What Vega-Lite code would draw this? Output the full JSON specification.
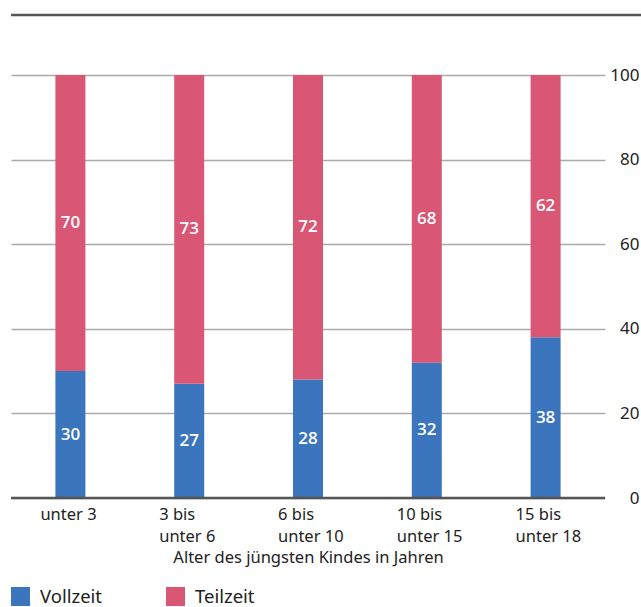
{
  "$schema": "https://vega.github.io/schema/vega-lite/v6.json",
  "width": 594,
  "height": 483,
  "padding": {"left": 9, "top": 13, "right": 0, "bottom": 0},
  "autosize": {"type": "pad"},
  "config": {
    "font": "Noto Sans",
    "view": {"stroke": null},
    "axis": {"labelFont": "Noto Sans", "titleFont": "Noto Sans", "labelColor": "#222", "titleColor": "#222", "domain": false, "ticks": false}
  },
  "data": {
    "values": [
      {"alter": "unter 3", "typ": "Vollzeit", "v": 30},
      {"alter": "unter 3", "typ": "Teilzeit", "v": 70},
      {"alter": "3 bis\nunter 6", "typ": "Vollzeit", "v": 27},
      {"alter": "3 bis\nunter 6", "typ": "Teilzeit", "v": 73},
      {"alter": "6 bis\nunter 10", "typ": "Vollzeit", "v": 28},
      {"alter": "6 bis\nunter 10", "typ": "Teilzeit", "v": 72},
      {"alter": "10 bis\nunter 15", "typ": "Vollzeit", "v": 32},
      {"alter": "10 bis\nunter 15", "typ": "Teilzeit", "v": 68},
      {"alter": "15 bis\nunter 18", "typ": "Vollzeit", "v": 38},
      {"alter": "15 bis\nunter 18", "typ": "Teilzeit", "v": 62}
    ]
  },
  "layer": [
    {
      "mark": {"type": "bar", "width": 30},
      "encoding": {
        "x": {
          "field": "alter", "type": "nominal", "sort": null,
          "scale": {"domain": ["unter 3", "3 bis\nunter 6", "6 bis\nunter 10", "10 bis\nunter 15", "15 bis\nunter 18"], "paddingInner": 0, "paddingOuter": 0},
          "axis": {
            "labelAngle": 0, "labelAlign": "left", "labelOffset": -30, "labelPadding": 8,
            "labelFontSize": 16.5, "labelLineHeight": 22, "labelExpr": "split(datum.label, '\\n')",
            "title": "Alter des jüngsten Kindes in Jahren", "titleFontSize": 16.5, "titleFontWeight": "normal", "titlePadding": 5, "grid": false
          }
        },
        "y": {
          "field": "v", "type": "quantitative", "stack": "zero",
          "scale": {"domain": [0, 114.2], "nice": false},
          "axis": {
            "orient": "right", "values": [0, 20, 40, 60, 80, 100], "title": null,
            "labelAlign": "right", "labelPadding": 34, "labelFontSize": 17, "labelBaseline": "middle",
            "grid": true, "gridColor": "#aaaaaa", "gridWidth": 1.5
          }
        },
        "color": {
          "field": "typ", "type": "nominal",
          "scale": {"domain": ["Vollzeit", "Teilzeit"], "range": ["#3B75BD", "#D95775"]},
          "legend": {
            "title": null, "orient": "none", "legendX": 0, "legendY": 572, "direction": "horizontal",
            "symbolType": "square", "symbolSize": 361, "symbolStrokeWidth": 0, "labelFontSize": 18.5,
            "labelFont": "Noto Sans", "labelColor": "#222", "labelOffset": 10, "columnPadding": 63, "padding": 0, "labelLimit": 200
          }
        },
        "order": {"field": "typ", "sort": "descending"}
      }
    },
    {
      "mark": {"type": "text", "color": "white", "fontSize": 17, "font": "Open Sans", "fontWeight": 600, "baseline": "middle"},
      "encoding": {
        "x": {"field": "alter", "type": "nominal", "sort": null},
        "y": {"field": "v", "type": "quantitative", "stack": "zero", "bandPosition": 0.5},
        "text": {"field": "v", "type": "quantitative"},
        "order": {"field": "typ", "sort": "descending"}
      }
    },
    {
      "data": {"values": [{"y": 0}]},
      "mark": {"type": "rule", "color": "#555555", "strokeWidth": 2.5},
      "encoding": {"y": {"field": "y", "type": "quantitative"}}
    },
    {
      "data": {"values": [{"y": 114.2, "a": "unter 3", "b": "15 bis\nunter 18"}]},
      "mark": {"type": "rule", "color": "#555555", "strokeWidth": 2.5, "x2Offset": 96},
      "encoding": {
        "y": {"field": "y", "type": "quantitative"},
        "x": {"field": "a", "type": "nominal", "sort": null, "bandPosition": 0},
        "x2": {"field": "b"}
      }
    }
  ]
}
